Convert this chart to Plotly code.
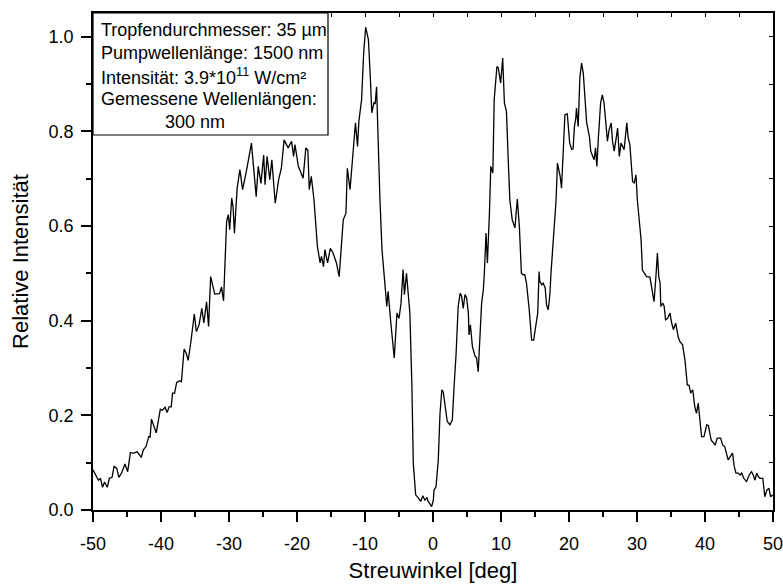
import plotly.graph_objects as go

# Scattering angle (deg) and relative intensity
angle = [
    -50.0, -49.2, -48.9, -48.6, -48.3, -47.9, -47.6, -47.2, -46.9, -46.5, -46.2, -45.8, -45.3, -44.9,
    -44.5, -44.0, -43.5, -42.9, -42.6, -42.2, -41.8, -41.6, -41.4, -41.0, -40.7, -40.1, -39.8, -39.4,
    -39.1, -38.8, -38.5, -38.3, -38.0, -37.7, -37.3, -37.0, -36.6, -36.3, -36.0, -35.6, -35.1, -34.8,
    -34.4, -34.0, -33.7, -33.3, -33.0, -32.7, -32.1, -31.4, -31.1, -30.8, -30.35, -30.1, -29.9, -29.6,
    -29.4, -29.2, -28.8, -28.4, -28.0, -27.4, -26.7, -26.0, -25.7, -25.3, -24.9, -24.7, -24.4, -24.0,
    -23.7, -23.2, -22.7, -22.3, -21.9, -21.3, -20.8, -20.5, -20.3, -19.8, -19.1, -18.7, -18.4, -18.2,
    -17.9, -17.5, -17.0, -16.6, -16.4, -16.1, -15.9, -15.5, -15.1, -14.7, -14.2, -13.8, -13.4, -13.2,
    -12.8, -12.6, -12.2, -11.7, -11.4, -11.1, -10.9, -10.5, -10.2, -9.9, -9.5, -9.2, -9.0, -8.7, -8.5,
    -8.3, -8.1, -7.8, -7.5, -7.2, -7.0, -6.8, -6.6, -6.2, -5.7, -5.3, -5.0, -4.7, -4.4, -4.2, -3.9,
    -3.4, -3.1, -2.9, -2.55, -2.2, -1.8, -1.5, -1.2, -0.9, -0.7, -0.4, -0.2, 0.05, 0.15, 0.44, 0.78,
    1.03, 1.3, 1.5, 1.76, 2.1, 2.5, 2.84, 3.1, 3.4, 3.7, 4.0, 4.2, 4.45, 4.7, 4.95, 5.2, 5.3, 5.5,
    5.8, 6.2, 6.4, 6.65, 6.9, 7.15, 7.4, 7.55, 7.8, 8.0, 8.3, 8.5, 8.8, 9.0, 9.4, 9.6, 9.95, 10.25,
    10.5, 10.8, 11.1, 11.3, 11.65, 12.05, 12.4, 12.7, 13.0, 13.3, 13.5, 13.75, 14.15, 14.5, 14.8,
    15.15, 15.4, 15.6, 15.7, 16.0, 16.2, 16.5, 16.7, 16.95, 17.2, 17.35, 17.8, 18.1, 18.3, 18.7,
    18.9, 19.2, 19.4, 19.75, 20.1, 20.4, 20.6, 20.8, 21.0, 21.1, 21.35, 21.6, 21.85, 22.1, 22.35,
    22.6, 23.0, 23.2, 23.5, 23.7, 23.9, 24.1, 24.3, 24.65, 24.9, 25.15, 25.4, 25.65, 25.9, 26.2,
    26.4, 26.65, 26.9, 27.15, 27.4, 27.65, 27.9, 28.1, 28.5, 28.7, 28.95, 29.2, 29.35, 29.6, 29.85,
    30.05, 30.3, 30.6, 30.8, 31.2, 31.4, 31.9, 32.5, 32.75, 33.0, 33.2, 33.4, 33.5, 33.8, 34.0,
    34.2, 34.5, 34.85, 35.1, 35.35, 35.7, 36.05, 36.3, 36.7, 37.05, 37.4, 37.65, 37.9, 38.2, 38.5,
    38.75, 39.0, 39.5, 39.85, 40.25, 40.5, 40.9, 41.5, 41.8, 42.3, 42.6, 42.9, 43.4, 43.8, 44.05,
    44.3, 44.55, 44.9, 45.15, 45.4, 45.7, 46.1, 46.5, 46.85, 47.1, 47.35, 47.6, 47.85, 48.1, 48.5,
    48.8, 49.1, 49.4, 49.65, 49.95,
]
intensity = [
    0.085, 0.063, 0.067, 0.048, 0.059, 0.048, 0.067, 0.069, 0.092, 0.088, 0.069, 0.078, 0.097, 0.081,
    0.121, 0.120, 0.123, 0.111, 0.127, 0.134, 0.155, 0.154, 0.192, 0.173, 0.163, 0.213, 0.211, 0.217,
    0.206, 0.218, 0.218, 0.247, 0.247, 0.269, 0.273, 0.271, 0.340, 0.331, 0.316, 0.356, 0.414, 0.377,
    0.391, 0.426, 0.395, 0.440, 0.388, 0.493, 0.456, 0.457, 0.471, 0.442, 0.610, 0.624, 0.592, 0.659,
    0.640, 0.585, 0.680, 0.719, 0.677, 0.719, 0.775, 0.662, 0.726, 0.690, 0.750, 0.687, 0.747, 0.698,
    0.740, 0.648, 0.698, 0.722, 0.782, 0.765, 0.779, 0.747, 0.772, 0.726, 0.701, 0.765, 0.760, 0.677,
    0.705, 0.655, 0.557, 0.522, 0.536, 0.514, 0.550, 0.522, 0.553, 0.543, 0.522, 0.493, 0.571, 0.613,
    0.627, 0.722, 0.677, 0.761, 0.818, 0.768, 0.821, 0.867, 0.965, 1.020, 0.994, 0.909, 0.839, 0.860, 0.858,
    0.894, 0.789, 0.655, 0.550, 0.486, 0.465, 0.430, 0.462, 0.395, 0.321, 0.416, 0.405, 0.437, 0.508, 0.455, 0.500,
    0.416, 0.261, 0.099, 0.032, 0.026, 0.018, 0.030, 0.021, 0.026, 0.018, 0.012, 0.007, 0.021, 0.042, 0.049, 0.106,
    0.204, 0.254, 0.250, 0.226, 0.187, 0.180, 0.190, 0.261, 0.331, 0.430, 0.458, 0.452, 0.426, 0.455, 0.448, 0.416, 0.370, 0.391,
    0.345, 0.324, 0.322, 0.292, 0.381, 0.437, 0.465, 0.500, 0.585, 0.522, 0.627, 0.726, 0.712, 0.867, 0.937, 0.934, 0.902, 0.955,
    0.860, 0.842, 0.726, 0.655, 0.613, 0.596, 0.657, 0.599, 0.500, 0.497, 0.497, 0.479, 0.423, 0.359, 0.359,
    0.388, 0.416, 0.504, 0.483, 0.476, 0.479, 0.469, 0.433, 0.423, 0.458, 0.500, 0.599, 0.655, 0.733, 0.705,
    0.680, 0.761, 0.835, 0.837, 0.775, 0.762, 0.763, 0.810, 0.828, 0.849, 0.810, 0.914, 0.944, 0.923, 0.867,
    0.818, 0.789, 0.758, 0.747, 0.740, 0.765, 0.726, 0.782, 0.860, 0.877, 0.860, 0.821, 0.779, 0.803, 0.818,
    0.779, 0.758, 0.782, 0.807, 0.747, 0.775, 0.768, 0.761, 0.818, 0.786, 0.772, 0.733, 0.694, 0.691, 0.708,
    0.655, 0.613, 0.571, 0.507, 0.497, 0.493, 0.492, 0.440, 0.486, 0.543, 0.493, 0.479, 0.430, 0.437, 0.430,
    0.402, 0.405, 0.416, 0.395, 0.381, 0.395, 0.366, 0.356, 0.349, 0.317, 0.264, 0.264, 0.247, 0.254, 0.218,
    0.204, 0.226, 0.155, 0.155, 0.180, 0.178, 0.148, 0.137, 0.152, 0.152, 0.137, 0.134, 0.106, 0.116, 0.120,
    0.092, 0.078, 0.078, 0.074, 0.078, 0.067, 0.060, 0.074, 0.081, 0.074, 0.063, 0.078, 0.070, 0.067, 0.067,
    0.028, 0.042, 0.046, 0.028, 0.032,
]

x_tick_vals = [-50, -40, -30, -20, -10, 0, 10, 20, 30, 40, 50]
x_tick_labels = ["-50", "-40", "-30", "-20", "-10", "0", "10", "20", "30", "40", "50"]
y_tick_vals = [0.0, 0.2, 0.4, 0.6, 0.8, 1.0]
y_tick_labels = ["0.0", "0.2", "0.4", "0.6", "0.8", "1.0"]

info_lines = [
    "Tropfendurchmesser: 35 µm",
    "Pumpwellenlänge: 1500 nm",
    "Intensität: 3.9*10<sup>11</sup> W/cm²",
    "Gemessene Wellenlängen:",
    "300 nm",
]

FONT = "Arial, Liberation Sans, sans-serif"

fig = go.Figure()
fig.add_trace(go.Scatter(x=angle, y=intensity, mode="lines",
                         line=dict(color="black", width=1.3), showlegend=False,
                         hoverinfo="skip"))
# empty trace to activate the mirrored (top/right) frame axes
fig.add_trace(go.Scatter(x=[None], y=[None], xaxis="x2", yaxis="y2", showlegend=False))

fig.update_layout(
    width=783, height=584,
    margin=dict(l=93, r=10, t=13, b=74),
    paper_bgcolor="white", plot_bgcolor="white",
    font=dict(family=FONT, color="black", size=18),
    xaxis=dict(range=[-50, 50], tickvals=x_tick_vals, ticktext=x_tick_labels,
               ticks="outside", ticklen=10, tickwidth=1.5, tickcolor="black",
               minor=dict(ticks="outside", dtick=5, ticklen=5, tickwidth=1.5, tickcolor="black"),
               showline=True, linecolor="black", linewidth=1.5, showgrid=False, zeroline=False,
               tickfont=dict(size=18), ticklabelstandoff=7, ticklabeloverflow="allow",
               automargin=False,
               title=dict(text="Streuwinkel [deg]", font=dict(size=22), standoff=9)),
    yaxis=dict(range=[0, 1.05], tickvals=y_tick_vals, ticktext=y_tick_labels,
               ticks="outside", ticklen=10, tickwidth=1.5, tickcolor="black",
               minor=dict(ticks="outside", dtick=0.1, ticklen=5, tickwidth=1.5, tickcolor="black"),
               showline=True, linecolor="black", linewidth=1.5, showgrid=False, zeroline=False,
               tickfont=dict(size=18), ticklabelstandoff=4, automargin=False,
               title=dict(text="Relative Intensität", font=dict(size=22), standoff=14)),
    xaxis2=dict(overlaying="x", side="top", range=[-50, 50], dtick=5, tick0=0,
                ticks="inside", ticklen=4, tickwidth=1.2, tickcolor="black",
                showticklabels=False, showline=True, linecolor="black", linewidth=1.5,
                showgrid=False, zeroline=False, anchor="y2"),
    yaxis2=dict(overlaying="y", side="right", range=[0, 1.05], dtick=0.1, tick0=0,
                ticks="inside", ticklen=4, tickwidth=1.2, tickcolor="black",
                showticklabels=False, showline=True, linecolor="black", linewidth=1.5,
                showgrid=False, zeroline=False, anchor="x2"),
)

# info box
box_right = (328 - 93) / 680
box_bottom = (510 - 135) / 497
fig.add_shape(type="rect", xref="paper", yref="paper", x0=0, x1=box_right,
              y0=box_bottom, y1=1, line=dict(color="black", width=1.2),
              fillcolor="white", layer="above")

line_px = [30, 53, 76, 99, 122]
line_x = [99, 99, 99, 99, 163]
for txt, ypx, xpx in zip(info_lines, line_px, line_x):
    fig.add_annotation(text=txt, xref="paper", yref="paper",
                       x=(xpx - 93) / 680, y=(510 - ypx) / 497,
                       xanchor="left", yanchor="middle", showarrow=False,
                       font=dict(size=18, family=FONT, color="black"))

fig.write_html("out.html")
